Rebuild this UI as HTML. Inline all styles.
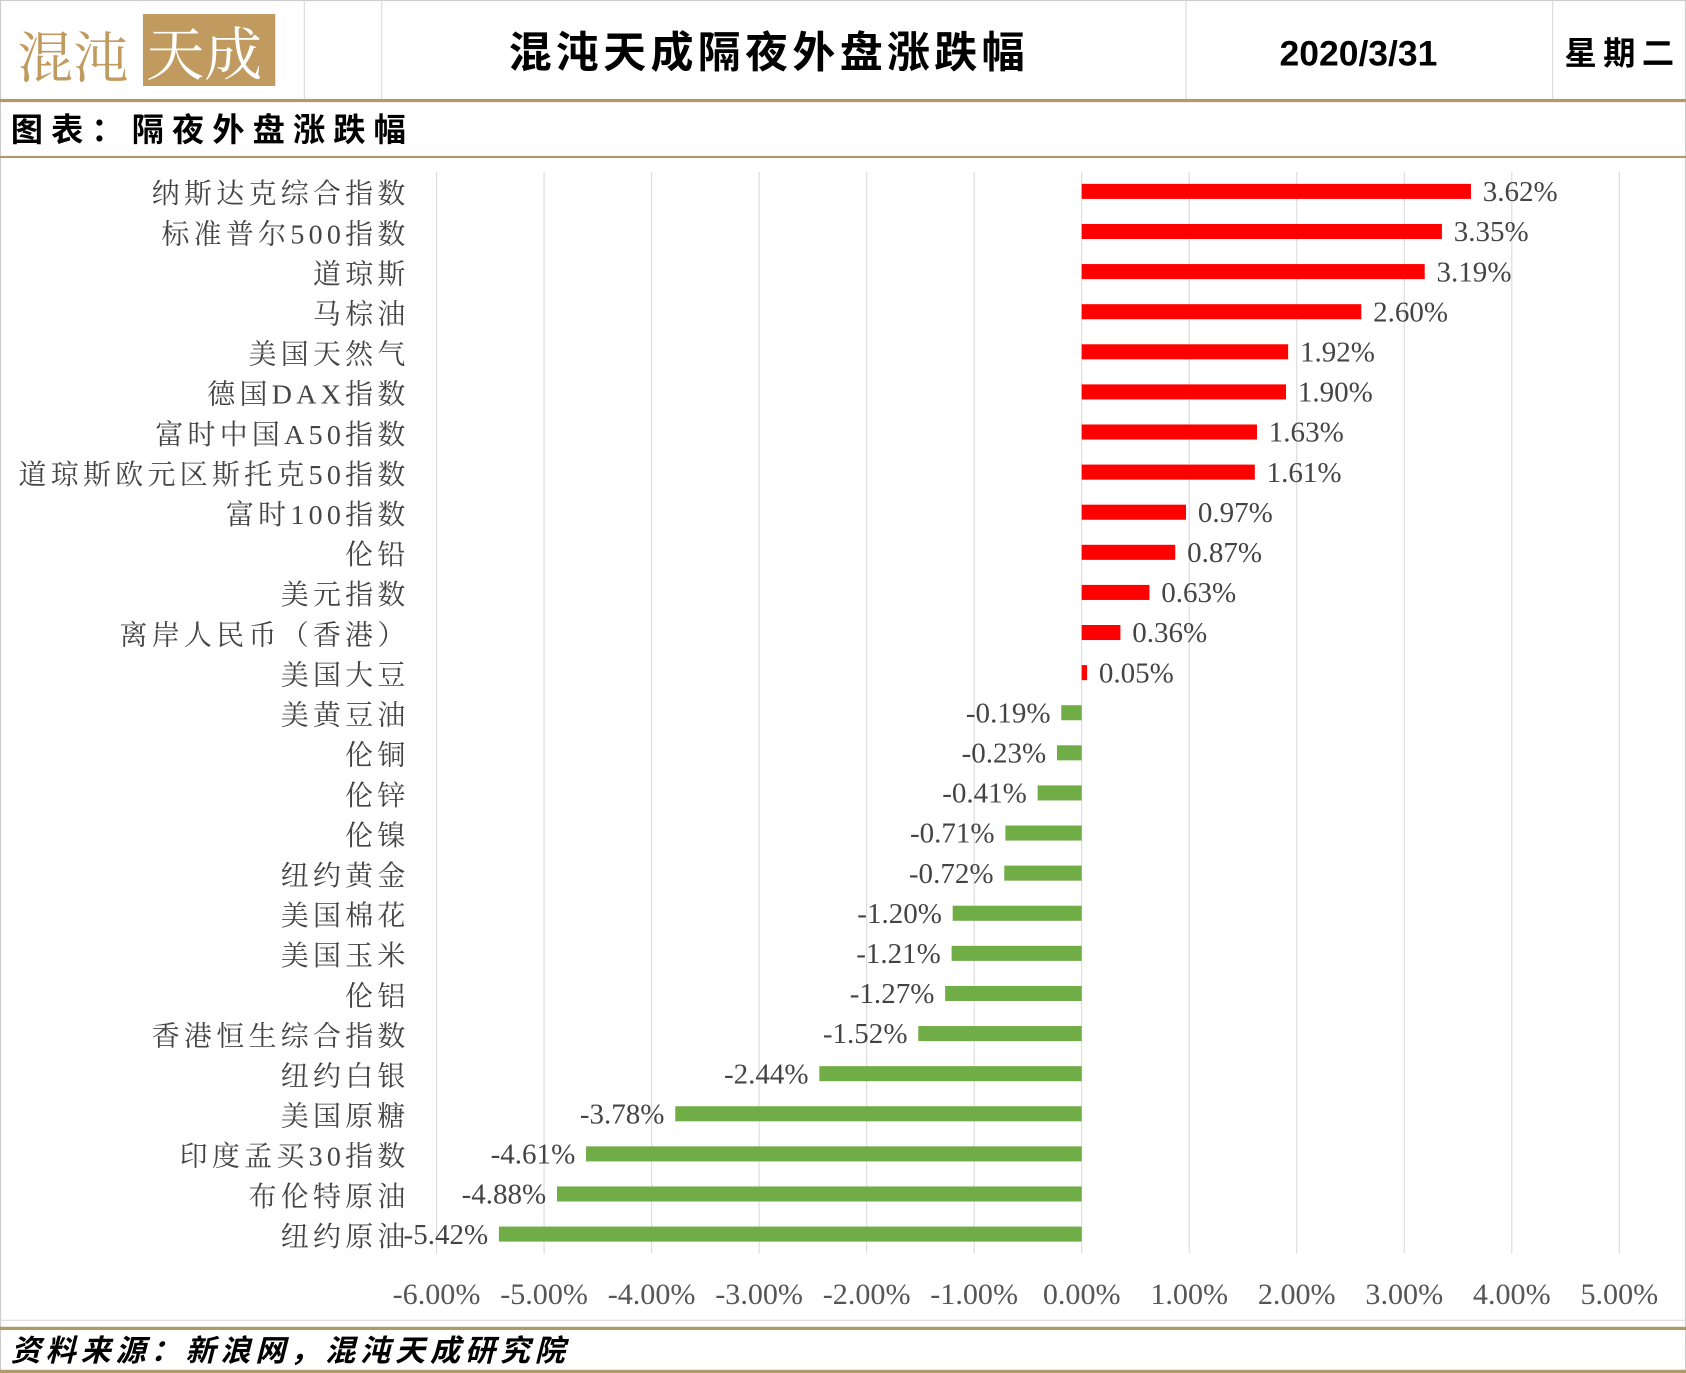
<!DOCTYPE html>
<html><head><meta charset="utf-8"><style>
html,body{margin:0;padding:0;background:#fff;}
svg{display:block;}
.c{font-family:"Liberation Serif","Noto Serif CJK SC",serif;font-size:26px;fill:#444;letter-spacing:4px;}
.v{font-family:"Liberation Serif","Noto Serif CJK SC",serif;font-size:27px;fill:#444;}
.a{font-family:"Liberation Serif","Noto Serif CJK SC",serif;font-size:28px;fill:#555;}
.t{font-family:"Liberation Sans","Noto Sans CJK SC",sans-serif;font-weight:bold;fill:#000;}
</style></head><body>
<svg width="1686" height="1373" viewBox="0 0 1568 1277" preserveAspectRatio="none" xmlns="http://www.w3.org/2000/svg">
<rect x="0.5" y="0.5" width="1567" height="1276" fill="#fff" stroke="#ccc"/>
<g stroke="#d8d8d8" stroke-width="1">
<line x1="283" y1="0" x2="283" y2="92"/><line x1="355" y1="0" x2="355" y2="92"/>
<line x1="1103" y1="0" x2="1103" y2="92"/><line x1="1444" y1="0" x2="1444" y2="92"/>
</g>
<text x="16" y="72" font-family="Noto Serif CJK SC,serif" font-size="52" fill="#c19a5f">混沌</text>
<rect x="133" y="13" width="123" height="67" fill="#c19a5f"/>
<text x="136" y="70" font-family="Noto Serif CJK SC,serif" font-size="54" fill="#fff">天成</text>
<text class="t" x="473" y="63" font-size="40" letter-spacing="4">混沌天成隔夜外盘涨跌幅</text>
<text class="t" x="1190" y="61" font-size="33">2020/3/31</text>
<text class="t" x="1455" y="60" font-size="30" letter-spacing="6">星期二</text>
<rect x="0" y="92" width="1568" height="3" fill="#b09a6a"/>
<text class="t" x="10" y="131" font-size="30" letter-spacing="7.5">图表：隔夜外盘涨跌幅</text>
<rect x="0" y="145" width="1568" height="2" fill="#b09a6a"/>
<g stroke="#d9d9d9" stroke-width="1">
<line x1="406" y1="160" x2="406" y2="1166"/><line x1="506" y1="160" x2="506" y2="1166"/>
<line x1="606" y1="160" x2="606" y2="1166"/><line x1="706" y1="160" x2="706" y2="1166"/>
<line x1="806" y1="160" x2="806" y2="1166"/><line x1="906" y1="160" x2="906" y2="1166"/>
<line x1="1006" y1="160" x2="1006" y2="1166"/><line x1="1106" y1="160" x2="1106" y2="1166"/>
<line x1="1206" y1="160" x2="1206" y2="1166"/><line x1="1306" y1="160" x2="1306" y2="1166"/>
<line x1="1406" y1="160" x2="1406" y2="1166"/><line x1="1506" y1="160" x2="1506" y2="1166"/>
</g>
<g fill="#ff0000">
<rect x="1006" y="171" width="362" height="14"/>
<rect x="1006" y="208.3" width="335" height="14"/>
<rect x="1006" y="245.6" width="319" height="14"/>
<rect x="1006" y="282.9" width="260" height="14"/>
<rect x="1006" y="320.2" width="192" height="14"/>
<rect x="1006" y="357.5" width="190" height="14"/>
<rect x="1006" y="394.8" width="163" height="14"/>
<rect x="1006" y="432.1" width="161" height="14"/>
<rect x="1006" y="469.4" width="97" height="14"/>
<rect x="1006" y="506.7" width="87" height="14"/>
<rect x="1006" y="544" width="63" height="14"/>
<rect x="1006" y="581.3" width="36" height="14"/>
<rect x="1006" y="618.6" width="5" height="14"/>
</g>
<g fill="#70ad47">
<rect x="987" y="655.9" width="19" height="14"/>
<rect x="983" y="693.2" width="23" height="14"/>
<rect x="965" y="730.5" width="41" height="14"/>
<rect x="935" y="767.8" width="71" height="14"/>
<rect x="934" y="805.1" width="72" height="14"/>
<rect x="886" y="842.4" width="120" height="14"/>
<rect x="885" y="879.7" width="121" height="14"/>
<rect x="879" y="917" width="127" height="14"/>
<rect x="854" y="954.3" width="152" height="14"/>
<rect x="762" y="991.6" width="244" height="14"/>
<rect x="628" y="1028.9" width="378" height="14"/>
<rect x="545" y="1066.2" width="461" height="14"/>
<rect x="518" y="1103.5" width="488" height="14"/>
<rect x="464" y="1140.8" width="542" height="14"/>
</g>
<g class="v">
<text x="1379" y="187">3.62%</text>
<text x="1352" y="224.3">3.35%</text>
<text x="1336" y="261.6">3.19%</text>
<text x="1277" y="298.9">2.60%</text>
<text x="1209" y="336.2">1.92%</text>
<text x="1207" y="373.5">1.90%</text>
<text x="1180" y="410.8">1.63%</text>
<text x="1178" y="448.1">1.61%</text>
<text x="1114" y="485.4">0.97%</text>
<text x="1104" y="522.7">0.87%</text>
<text x="1080" y="560">0.63%</text>
<text x="1053" y="597.3">0.36%</text>
<text x="1022" y="634.6">0.05%</text>
</g>
<g class="v" text-anchor="end">
<text x="977" y="671.9">-0.19%</text>
<text x="973" y="709.2">-0.23%</text>
<text x="955" y="746.5">-0.41%</text>
<text x="925" y="783.8">-0.71%</text>
<text x="924" y="821.1">-0.72%</text>
<text x="876" y="858.4">-1.20%</text>
<text x="875" y="895.7">-1.21%</text>
<text x="869" y="933">-1.27%</text>
<text x="844" y="970.3">-1.52%</text>
<text x="752" y="1007.6">-2.44%</text>
<text x="618" y="1044.9">-3.78%</text>
<text x="535" y="1082.2">-4.61%</text>
<text x="508" y="1119.5">-4.88%</text>
<text x="454" y="1156.8">-5.42%</text>
</g>
<g class="c" text-anchor="end">
<text x="381" y="189">纳斯达克综合指数</text>
<text x="381" y="226.3">标准普尔500指数</text>
<text x="381" y="263.6">道琼斯</text>
<text x="381" y="300.9">马棕油</text>
<text x="381" y="338.2">美国天然气</text>
<text x="381" y="375.5">德国DAX指数</text>
<text x="381" y="412.8">富时中国A50指数</text>
<text x="381" y="450.1">道琼斯欧元区斯托克50指数</text>
<text x="381" y="487.4">富时100指数</text>
<text x="381" y="524.7">伦铅</text>
<text x="381" y="562">美元指数</text>
<text x="381" y="599.3">离岸人民币（香港）</text>
<text x="381" y="636.6">美国大豆</text>
<text x="381" y="673.9">美黄豆油</text>
<text x="381" y="711.2">伦铜</text>
<text x="381" y="748.5">伦锌</text>
<text x="381" y="785.8">伦镍</text>
<text x="381" y="823.1">纽约黄金</text>
<text x="381" y="860.4">美国棉花</text>
<text x="381" y="897.7">美国玉米</text>
<text x="381" y="935">伦铝</text>
<text x="381" y="972.3">香港恒生综合指数</text>
<text x="381" y="1009.6">纽约白银</text>
<text x="381" y="1046.9">美国原糖</text>
<text x="381" y="1084.2">印度孟买30指数</text>
<text x="381" y="1121.5">布伦特原油</text>
<text x="381" y="1158.8">纽约原油</text>
</g>
<g class="a" text-anchor="middle">
<text x="406" y="1213">-6.00%</text><text x="506" y="1213">-5.00%</text>
<text x="606" y="1213">-4.00%</text><text x="706" y="1213">-3.00%</text>
<text x="806" y="1213">-2.00%</text><text x="906" y="1213">-1.00%</text>
<text x="1006" y="1213">0.00%</text><text x="1106" y="1213">1.00%</text>
<text x="1206" y="1213">2.00%</text><text x="1306" y="1213">3.00%</text>
<text x="1406" y="1213">4.00%</text><text x="1506" y="1213">5.00%</text>
</g>
<line x1="0" y1="1228" x2="1568" y2="1228" stroke="#d9d9d9"/>
<rect x="0" y="1234" width="1568" height="3" fill="#b09a6a"/>
<text class="t" x="10" y="1266" font-size="28" font-style="italic" letter-spacing="4.5">资料来源：新浪网，混沌天成研究院</text>
<rect x="0" y="1274" width="1568" height="3" fill="#b09a6a"/>
</svg>
</body></html>
